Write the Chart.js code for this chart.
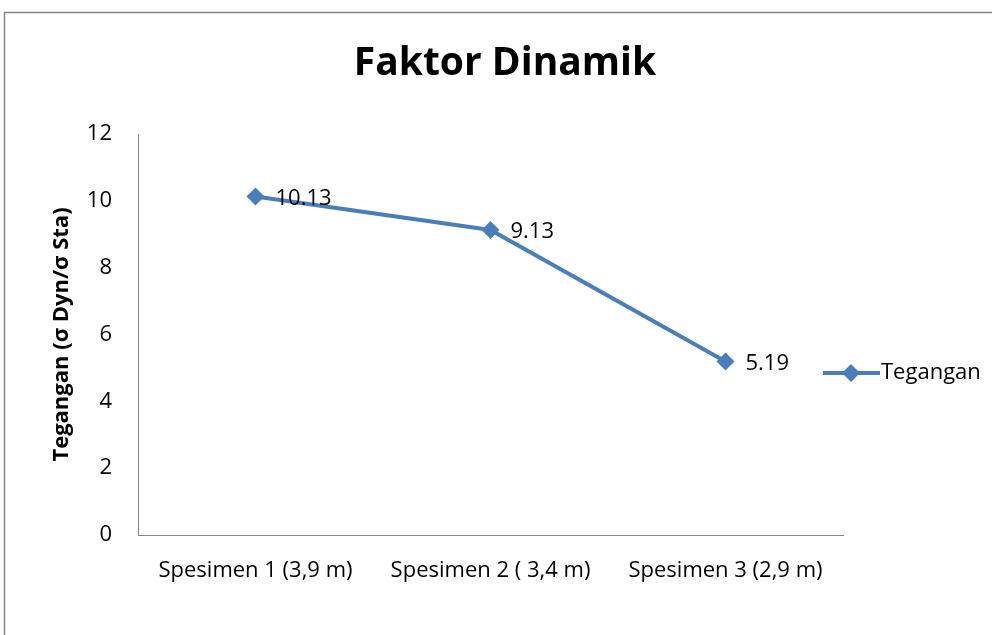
<!DOCTYPE html>
<html>
<head>
<meta charset="utf-8">
<script src="https://cdn.jsdelivr.net/npm/chart.js@4/dist/chart.umd.min.js"></script>
<style>
  html, body { margin: 0; padding: 0; background: #fff; }
  #wrap { width: 992px; height: 635px; position: relative; }
</style>
</head>
<body>
<div id="wrap"><canvas id="chart" width="992" height="635"></canvas></div>
<script>
// data
const categories = ['Spesimen 1 (3,9 m)', 'Spesimen 2 ( 3,4 m)', 'Spesimen 3 (2,9 m)'];
const teganganValues = [10.13, 9.13, 5.19];
const seriesName = 'Tegangan';
const chartTitle = 'Faktor Dinamik';
const yAxisTitle = 'Tegangan (σ Dyn/σ Sta)';

const FONT = '"Open Sans", Lato, sans-serif';
const LINE_BLUE = '#4a7ebb';
const AXIS_GREY = '#868686';

// outer frame, title and legend drawn straight on the canvas
const decorations = {
  id: 'decorations',
  beforeDraw(chart) {
    const ctx = chart.ctx;
    ctx.save();
    ctx.strokeStyle = AXIS_GREY;
    ctx.lineWidth = 1.5;
    ctx.strokeRect(4.5, 12.5, 1000, 700);
    ctx.restore();
  },
  afterDraw(chart) {
    const ctx = chart.ctx;
    ctx.save();
    // title
    ctx.fillStyle = '#000';
    ctx.font = 'bold 39px ' + FONT;
    ctx.textAlign = 'center';
    ctx.textBaseline = 'middle';
    ctx.fillText(chartTitle, 505, 64);

    // legend: line with diamond marker
    const ly = 373;
    ctx.strokeStyle = LINE_BLUE;
    ctx.lineWidth = 4;
    ctx.beginPath();
    ctx.moveTo(823, ly);
    ctx.lineTo(880, ly);
    ctx.stroke();
    ctx.fillStyle = LINE_BLUE;
    ctx.beginPath();
    ctx.moveTo(851, ly - 9);
    ctx.lineTo(860, ly);
    ctx.lineTo(851, ly + 9);
    ctx.lineTo(842, ly);
    ctx.closePath();
    ctx.fill();
    ctx.fillStyle = '#000';
    ctx.font = '22px ' + FONT;
    ctx.textAlign = 'left';
    ctx.fillText(seriesName, 881, ly);

    // value labels to the right of each point
    const meta = chart.getDatasetMeta(0);
    ctx.font = '22px ' + FONT;
    meta.data.forEach((pt, i) => {
      ctx.fillText(teganganValues[i].toFixed(2), pt.x + 20, pt.y + 2);
    });
    ctx.restore();
  }
};

new Chart(document.getElementById('chart'), {
  type: 'line',
  data: {
    labels: categories,
    datasets: [{
      label: seriesName,
      data: teganganValues,
      borderColor: LINE_BLUE,
      backgroundColor: LINE_BLUE,
      borderWidth: 4,
      pointStyle: 'rectRot',
      pointRadius: 9,
      pointBorderWidth: 0,
      tension: 0
    }]
  },
  options: {
    responsive: false,
    animation: false,
    layout: { padding: { top: 134, left: 0, right: 149, bottom: 0 } },
    plugins: {
      legend: { display: false },
      title: { display: false },
      tooltip: { enabled: false }
    },
    scales: {
      x: {
        offset: true,
        grid: { display: false, drawTicks: false },
        border: { display: true, color: AXIS_GREY, width: 1 },
        ticks: { color: '#000', font: { family: FONT, size: 22 }, padding: 23, maxRotation: 0 },
        afterFit(scale) { scale.height = 100; }
      },
      y: {
        min: 0,
        max: 12,
        grid: { display: false, drawTicks: false },
        border: { display: true, color: AXIS_GREY, width: 1 },
        ticks: { stepSize: 2, color: '#000', font: { family: FONT, size: 22 }, padding: 26 },
        title: {
          display: true,
          text: yAxisTitle,
          color: '#000',
          font: { family: FONT, size: 22, weight: 'bold' },
          padding: { top: 49, bottom: 0 }
        },
        afterFit(scale) { scale.width = 138; }
      }
    }
  },
  plugins: [decorations]
});
</script>
</body>
</html>
